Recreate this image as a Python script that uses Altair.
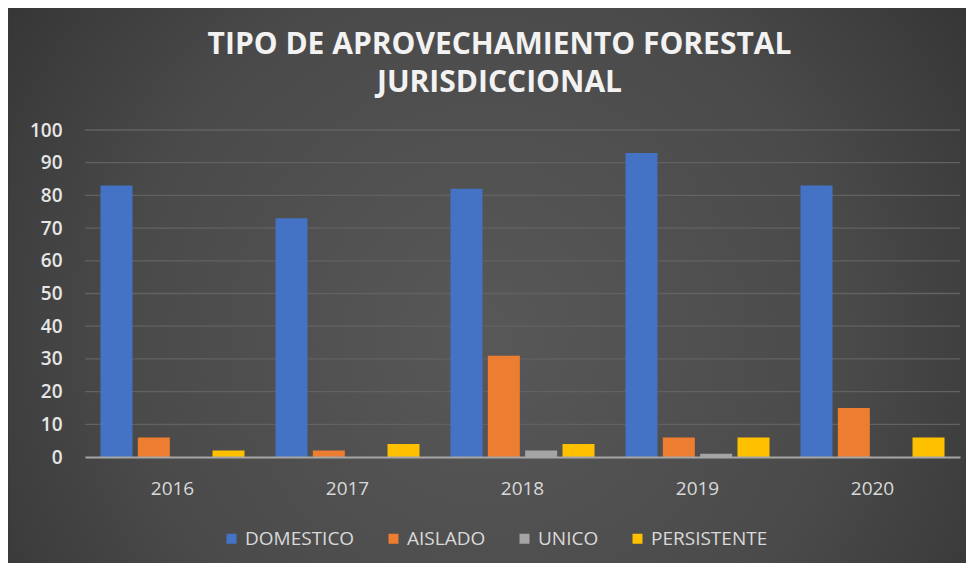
import altair as alt
import pandas as pd

years = ["2016", "2017", "2018", "2019", "2020"]
series = ["DOMESTICO", "AISLADO", "UNICO", "PERSISTENTE"]
domestico = [83, 73, 82, 93, 83]
aislado = [6, 2, 31, 6, 15]
unico = [0, 0, 2, 1, 0]
persistente = [2, 4, 4, 6, 6]
colors = ["#4472C4", "#ED7D31", "#A5A5A5", "#FFC000"]
y_ticks = [0, 10, 20, 30, 40, 50, 60, 70, 80, 90, 100]

rows = []
for name, vals in zip(series, [domestico, aislado, unico, persistente]):
    for yr, v in zip(years, vals):
        rows.append({"Año": yr, "Tipo": name, "Valor": v})
df = pd.DataFrame(rows)
grid_df = pd.DataFrame({"v": y_ticks[1:]})

W, H = 875, 327
PAD_L, PAD_T, PAD_R, PAD_B = 77, 122, 6, 106
FONT = "Open Sans"

yscale = alt.Scale(domain=[0, 100])
yaxis = alt.Axis(title=None, values=y_ticks, labelFontSize=19,
                 labelColor="#e6e6e6", labelFont=FONT, labelFontWeight=600,
                 labelPadding=23, ticks=False, domain=False,
                 grid=False, zindex=1)

bg = alt.Chart(pd.DataFrame({"a": [0]})).mark_rect(
    fill=alt.Gradient(
        gradient="radial",
        stops=[alt.GradientStop(color="#585858", offset=0),
               alt.GradientStop(color="#4a4a4a", offset=0.5),
               alt.GradientStop(color="#2a2a2a", offset=1)],
        x1=0.5, y1=0.55, r1=0, x2=0.5, y2=0.55, r2=0.75,
    )
).encode(
    x=alt.value(-PAD_L + 1), x2=alt.value(W + PAD_R),
    y=alt.value(-PAD_T), y2=alt.value(H + PAD_B),
)

grid = alt.Chart(grid_df).mark_rule(color="#626262", strokeWidth=1.3).encode(
    y=alt.Y("v:Q", scale=yscale, axis=yaxis),
)

bars = alt.Chart(df).mark_bar().encode(
    x=alt.X("Año:N", sort=years,
            scale=alt.Scale(paddingInner=0.177, paddingOuter=0.0885),
            axis=alt.Axis(title=None, labelAngle=0, labelFontSize=19,
                          labelColor="#d9d9d9", labelFont=FONT,
                          labelPadding=22, ticks=False, zindex=1,
                          domainColor="#a6a6a6", domainWidth=2)),
    xOffset=alt.XOffset("Tipo:N", sort=series,
                        scale=alt.Scale(paddingInner=0.143)),
    y=alt.Y("Valor:Q", scale=yscale, axis=yaxis),
    color=alt.Color("Tipo:N", sort=series,
                    scale=alt.Scale(domain=series, range=colors),
                    legend=alt.Legend(title=None, orient="none",
                                      direction="horizontal",
                                      legendX=137, legendY=399,
                                      symbolType="square", symbolSize=100,
                                      symbolStrokeWidth=0,
                                      labelFontSize=19, labelColor="#d9d9d9",
                                      labelFont=FONT, columnPadding=29,
                                      symbolOffset=0)),
)

chart = alt.layer(bg, grid, bars).properties(
    width=W, height=H,
    autosize=alt.AutoSizeParams(type="none"),
    padding={"left": PAD_L, "top": PAD_T, "right": PAD_R, "bottom": PAD_B},
    background="#3a3a3a",
    title=alt.TitleParams(
        text=["TIPO DE APROVECHAMIENTO FORESTAL", "JURISDICCIONAL"],
        anchor="middle", frame="group", dx=-23, offset=-90, fontSize=30,
        font=FONT, fontWeight="bold", color="#f2f2f2", lineHeight=38,
    ),
).configure_view(stroke=None)

chart.save("out.html", embed_options={"renderer": "svg", "actions": False})
